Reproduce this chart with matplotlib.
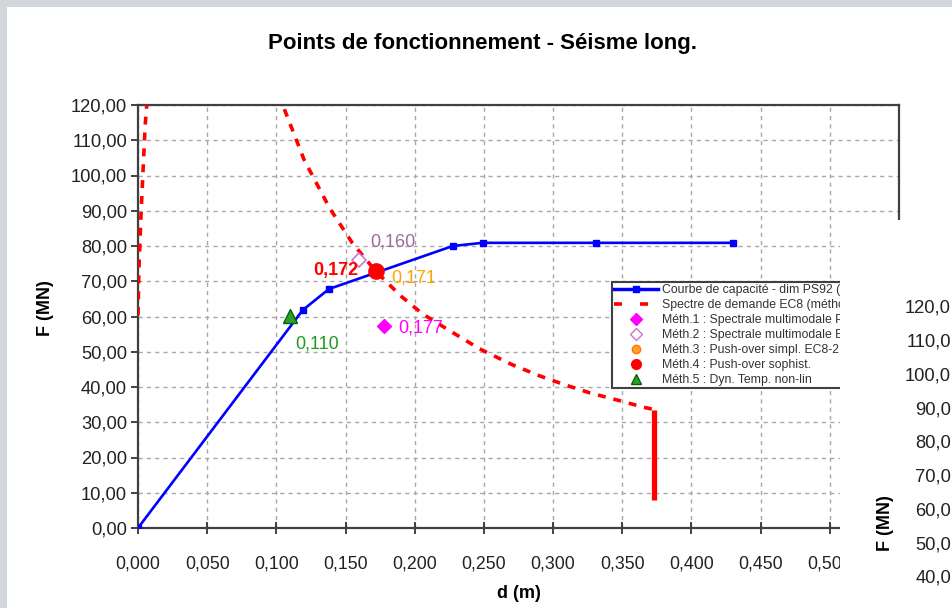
import matplotlib
matplotlib.use("Agg")
import matplotlib.pyplot as plt
from matplotlib.lines import Line2D
from matplotlib.patches import Rectangle

plt.rcParams['font.family'] = ['Liberation Sans', 'DejaVu Sans']

# ---------------- data ----------------
cap_d = [0.0, 0.119, 0.138, 0.2275, 0.249, 0.331, 0.430]
cap_F = [0.0, 61.8, 67.8, 80.0, 80.9, 80.9, 80.9]

dem_left_d = [0.0, 0.0007, 0.002, 0.0036, 0.0052, 0.0067]
dem_left_F = [60.4, 73.8, 87.4, 101.0, 114.3, 122.0]

dem_right_d = [0.1015, 0.1036, 0.120, 0.1384, 0.155, 0.1717, 0.190, 0.2058,
               0.2268, 0.247, 0.270, 0.290, 0.3087, 0.3268, 0.3464, 0.365, 0.373]
dem_right_F = [123.0, 121.0, 104.5, 90.8, 80.8, 72.9, 65.8, 60.7,
               55.6, 50.8, 46.4, 43.2, 40.6, 38.3, 36.3, 34.3, 33.6]

dem_vert_d = [0.373, 0.373]
dem_vert_F = [33.6, 7.9]

m1 = (0.1775, 57.3)
m2 = (0.160, 76.0)
m3 = (0.171, 73.0)
m4 = (0.172, 72.9)
m5 = (0.110, 60.1)

labels_pts = ["0,177", "0,160", "0,171", "0,172", "0,110"]

legend_labels = ["Courbe de capacité - dim PS92 (EC8)",
                 "Spectre de demande EC8 (méthode N2)",
                 "Méth.1 : Spectrale multimodale PS92",
                 "Méth.2 : Spectrale multimodale EC8",
                 "Méth.3 : Push-over simpl. EC8-2",
                 "Méth.4 : Push-over sophist.",
                 "Méth.5 : Dyn. Temp. non-lin"]

x_ticks = [0.0, 0.05, 0.10, 0.15, 0.20, 0.25, 0.30, 0.35, 0.40, 0.45, 0.50, 0.55]
y_ticks = [0, 10, 20, 30, 40, 50, 60, 70, 80, 90, 100, 110, 120]

second_chart_ticks = ["120,0", "110,0", "100,0", "90,0", "80,0",
                      "70,0", "60,0", "50,0", "40,0"]

# ---------------- figure ----------------
W, H = 952, 608
fig = plt.figure(figsize=(W / 100, H / 100), dpi=100)
fig.patch.set_facecolor('white')

L, R, T, B = 138, 899, 105, 528
ax = fig.add_axes([L / W, 1 - B / H, (R - L) / W, (B - T) / H])
ax.set_xlim(0, 0.55)
ax.set_ylim(0, 120)

grid_kw = dict(color='#A8A8A8', lw=1.0, linestyle=(0, (3, 3)))
ax.set_xticks(x_ticks)
ax.set_yticks(y_ticks)
ax.grid(True, **grid_kw)
ax.set_axisbelow(True)

ax.set_xticklabels([f"{v:.3f}".replace('.', ',') for v in x_ticks])
ax.set_yticklabels([f"{v:.2f}".replace('.', ',') for v in y_ticks])
ax.tick_params(axis='both', colors='#222222', width=1.2)
ax.tick_params(axis='y', direction='out', length=5, pad=3, labelsize=13.2)
ax.tick_params(axis='x', direction='inout', length=8, pad=16, labelsize=12.8)
for s in ax.spines.values():
    s.set_color('#404040')
    s.set_linewidth(1.6)

red = '#FF0000'
# demand spectrum
ax.plot(dem_left_d, dem_left_F, color=red, lw=2.6, linestyle=(0, (2.2, 2.2)),
        dash_capstyle='butt', zorder=3)
ax.plot(dem_right_d, dem_right_F, color=red, lw=2.6, linestyle=(0, (2.2, 2.2)),
        dash_capstyle='butt', zorder=3)
ax.plot(dem_vert_d, dem_vert_F, color=red, lw=3.8, solid_capstyle='butt', zorder=3)

# capacity curve
ax.plot(cap_d, cap_F, color='#0000FF', lw=1.9, marker='s', markersize=4.5,
        markerfacecolor='#0000FF', markeredgecolor='#0000FF', zorder=4)

# operating points
ax.plot(*m1, marker='D', markersize=7, color='#FF00FF', zorder=5, linestyle='none')
ax.plot(*m2, marker='D', markersize=7, markerfacecolor='white',
        markeredgecolor='#CC77CC', markeredgewidth=1.2, zorder=5, linestyle='none')
ax.plot(*m3, marker='o', markersize=8, markerfacecolor='#FFA030',
        markeredgecolor='#FF7700', zorder=5, linestyle='none')
ax.plot(*m4, marker='o', markersize=11, color='#FF0000', zorder=6, linestyle='none')
ax.plot(*m5, marker='^', markersize=10, markerfacecolor='#2E9E2E',
        markeredgecolor='#006600', zorder=6, linestyle='none')

def ftext(px, py, s, **kw):
    return fig.text(px / W, 1 - py / H, s, **kw)

ftext(421, 328, labels_pts[0], color='#FF00FF', fontsize=13, ha='center', va='center')
ftext(393, 242, labels_pts[1], color='#A06AA0', fontsize=13, ha='center', va='center')
ftext(414, 278, labels_pts[2], color='#FFA500', fontsize=13, ha='center', va='center')
ftext(336, 270, labels_pts[3], color='#FF0000', fontsize=13, ha='center', va='center',
      weight='bold')
ftext(317, 344, labels_pts[4], color='#1E9A1E', fontsize=13, ha='center', va='center')

# legend
handles = [
    Line2D([], [], color='#0000FF', lw=2.5, marker='s', markersize=5),
    Line2D([], [], color=red, lw=2.6, linestyle=(0, (2.2, 5.0))),
    Line2D([], [], color='#FF00FF', marker='D', markersize=6, linestyle='none'),
    Line2D([], [], marker='D', markersize=6, markerfacecolor='white',
           markeredgecolor='#CC77CC', linestyle='none'),
    Line2D([], [], marker='o', markersize=6, markerfacecolor='#FFA030',
           markeredgecolor='#FF7700', linestyle='none'),
    Line2D([], [], marker='o', markersize=7, color='#FF0000', linestyle='none'),
    Line2D([], [], marker='^', markersize=7, markerfacecolor='#2E9E2E',
           markeredgecolor='#006600', linestyle='none'),
]
leg = ax.legend(handles, legend_labels, loc='upper left',
                bbox_to_anchor=(612 / W, 1 - 282 / H), bbox_transform=fig.transFigure,
                fontsize=8.8, frameon=True, fancybox=False, framealpha=1,
                edgecolor='#404040', borderaxespad=0, borderpad=0.2,
                labelspacing=0.24, handlelength=3.6, handletextpad=0.3)
leg.get_frame().set_linewidth(1.5)
for t in leg.get_texts():
    t.set_color('#333333')
leg.set_zorder(8)

# titles / axis labels
ftext(482, 44, "Points de fonctionnement - Séisme long.", fontsize=16,
      weight='bold', ha='center', va='center')
ftext(45, 308, "F (MN)", fontsize=13, weight='bold', rotation=90,
      ha='center', va='center')
ftext(519, 594, "d (m)", fontsize=13, weight='bold', ha='center', va='center')

# overlapping second chart (partially visible)
fig.add_artist(Rectangle((840 / W, 0), (W - 840) / W, (H - 220) / H,
                         transform=fig.transFigure, facecolor='white',
                         edgecolor='none', zorder=20))
ys = [308, 342, 376, 410, 443, 477, 511, 545, 578]
for lab, yy in zip(second_chart_ticks, ys):
    fig.text(951 / W, 1 - yy / H, lab, fontsize=13.2, color='#222222',
             ha='right', va='center', zorder=21)
fig.text(885 / W, 1 - 523 / H, "F (MN)", fontsize=13, weight='bold',
         rotation=90, ha='center', va='center', zorder=21)

# window frame strips
grey = '#D2D6DA'
fig.add_artist(Rectangle((0, 1 - 7 / H), 1, 7 / H, transform=fig.transFigure,
                         facecolor=grey, edgecolor='none', zorder=30))
fig.add_artist(Rectangle((0, 0), 7 / W, 1, transform=fig.transFigure,
                         facecolor=grey, edgecolor='none', zorder=30))

fig.savefig("out.png", dpi=100)
